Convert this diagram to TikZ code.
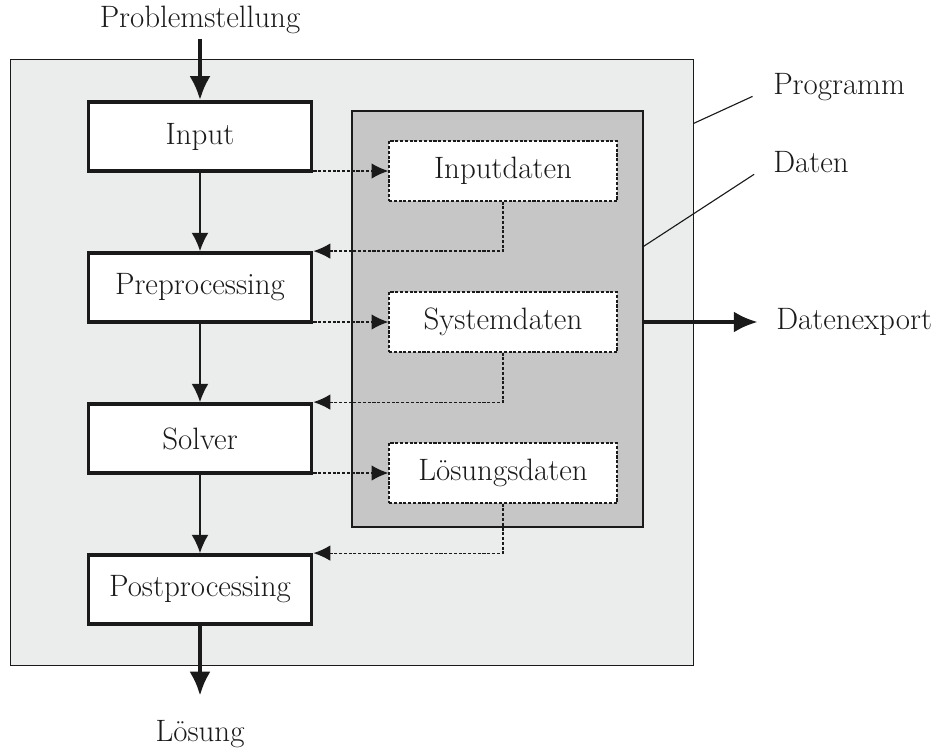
\documentclass[tikz,border=0pt]{standalone}
\usetikzlibrary{arrows.meta}
\definecolor{progfill}{HTML}{EBECEC}
\definecolor{datfill}{HTML}{C6C6C6}
\definecolor{ink}{HTML}{1A1A1A}
\begin{document}
\begin{tikzpicture}[x=0.025cm,y=-0.025cm,
  font=\fontsize{22}{26}\selectfont, color=ink,
  procbox/.style={draw, line width=2.7pt, fill=white, inner sep=0pt,
    minimum width=5.575cm, minimum height=1.725cm},
  datbox/.style={draw, fill=white, line width=0.85pt, dash pattern=on 2.2pt off 1.2pt,
    inner sep=0pt, minimum width=5.7cm, minimum height=1.5cm},
  flow/.style={-{Latex[length=13pt,width=12pt]}, line width=1pt},
  bigflow/.style={-{Latex[length=17pt,width=15pt]}, line width=2.8pt},
  datflow/.style={-{Latex[length=12pt,width=11pt]}, line width=0.85pt, dash pattern=on 2.2pt off 1.2pt},
  lbl/.style={anchor=west, inner sep=0pt}]

  \useasboundingbox (0,0) rectangle (936,751);

  % Programm und Daten
  \node[draw, fill=progfill, line width=0.7pt, minimum width=17.05cm, minimum height=15.125cm] (prog) at (352,362.5) {};
  \node[draw, fill=datfill, line width=0.9pt, minimum width=7.275cm, minimum height=10.4cm] (dat) at (497.5,319) {};

  % Ablauf
  \node[procbox] (inp)  at (200,136.5) {Input};
  \node[procbox] (pre)  at (200,287.5) {Preprocessing};
  \node[procbox] (sol)  at (200,438.5) {Solver};
  \node[procbox] (post) at (200,589.5) {Postprocessing};

  % Datenbloecke
  \node[datbox] (inpd) at (503,171) {Inputdaten};
  \node[datbox] (sysd) at (503,322) {Systemdaten};
  \node[datbox] (losd) at (503,473) {Lösungsdaten};

  % Beschriftungen
  \node (prob) at (200,20) {Problemstellung};
  \node (loes) at (200,734) {Lösung};
  \node[lbl] (lprog) at (773,87) {Programm};
  \node[lbl] (ldat)  at (773,162) {Daten};
  \node[lbl] (lexp)  at (776,322) {Datenexport};

  % Pfeile
  \draw[bigflow] (prob) -- (inp);
  \draw[bigflow, shorten >=14pt] (post) -- (loes);
  \draw[bigflow, shorten >=13pt] (sysd -| dat.east) -- (lexp.west);

  \draw[flow] (inp) -- (pre);
  \draw[flow] (pre) -- (sol);
  \draw[flow] (sol) -- (post);

  \draw[datflow] (inpd -| inp.east) -- (inpd.west);
  \draw[datflow] (sysd -| pre.east) -- (sysd.west);
  \draw[datflow] (losd -| sol.east) -- (losd.west);

  \draw[datflow] (inpd.south) |- (pre.north east);
  \draw[datflow] (sysd.south) |- (sol.north east);
  \draw[datflow] (losd.south) |- (post.north east);

  % Hinweislinien
  \draw[line width=0.8pt, shorten >=16pt] (prog.north east) ++(0,64) -- (lprog.west);
  \draw[line width=0.8pt, shorten >=16pt] (dat.north east) ++(0,136) -- (ldat.west);

\end{tikzpicture}
\end{document}
